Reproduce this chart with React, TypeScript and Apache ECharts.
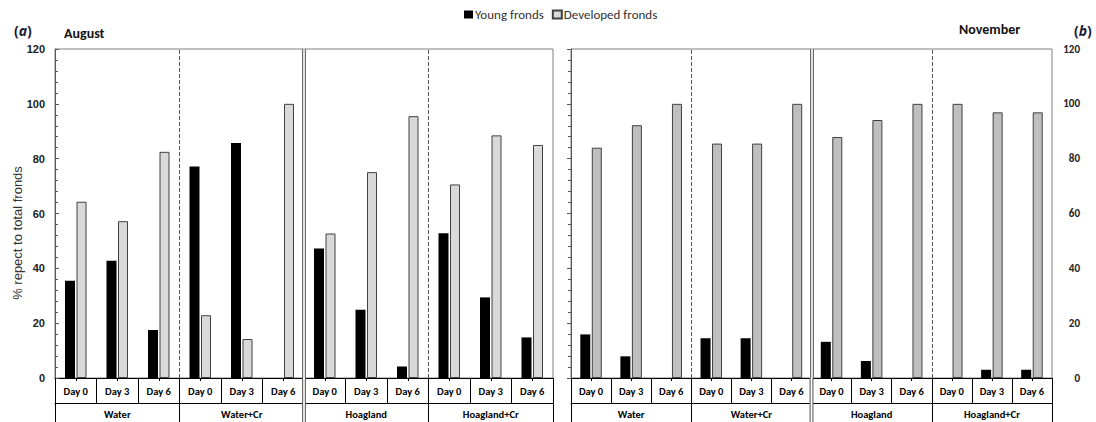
import React, { useEffect, useRef } from "react";
import * as echarts from "echarts";

const days = ["Day 0", "Day 3", "Day 6"];
const groups = ["Water", "Water+Cr", "Hoagland", "Hoagland+Cr"];
const yTicks = [0, 20, 40, 60, 80, 100, 120];

// August (panel a)
const augYoung = [35.5, 42.8, 17.5, 77.1, 85.7, 0, 47.2, 24.9, 4.2, 52.8, 29.4, 14.8];
const augDeveloped = [64.3, 57.2, 82.5, 22.9, 14.2, 100, 52.7, 75.1, 95.5, 70.6, 88.5, 85.0];
// November (panel b)
const novYoung = [15.9, 7.9, 0, 14.5, 14.5, 0, 13.2, 6.2, 0, 0, 3.0, 3.0];
const novDeveloped = [84.0, 92.2, 100, 85.5, 85.5, 100, 87.9, 94.1, 100, 100, 96.9, 96.9];

const categories = groups.flatMap(() => days);

const NARROW = "Carlito, 'Liberation Sans Narrow', 'Open Sans', sans-serif";
const ARIAL = "'Liberation Sans', Arial, sans-serif";

function buildAxesForGrid(g: number) {
  return [
    {
      type: "category",
      gridIndex: g,
      data: categories,
      position: "bottom",
      boundaryGap: true,
      axisLine: { show: true, lineStyle: { color: "#000", width: 1 } },
      axisTick: { show: true, interval: 0, length: 25, lineStyle: { color: "#000" } },
      axisLabel: { interval: 0, fontSize: 10.5, fontWeight: "bold", color: "#000", fontFamily: NARROW, margin: 8 },
    },
    {
      type: "category",
      gridIndex: g,
      data: groups,
      position: "bottom",
      offset: 25,
      boundaryGap: true,
      axisLine: { show: true, lineStyle: { color: "#000", width: 1 } },
      axisTick: { show: true, interval: 0, length: 22, lineStyle: { color: "#000" } },
      axisLabel: { interval: 0, fontSize: 10.5, fontWeight: "bold", color: "#000", fontFamily: NARROW, margin: 6 },
    },
    {
      type: "category",
      gridIndex: g,
      data: categories,
      position: "bottom",
      boundaryGap: true,
      axisLine: { show: false },
      axisTick: { show: true, interval: 0, alignWithLabel: true, length: 3, lineStyle: { color: "#000" } },
      axisLabel: { show: false },
    },
    {
      type: "value",
      gridIndex: g,
      min: 0,
      max: categories.length,
      show: false,
    },
  ];
}

function yAxisFor(g: number, pos: "left" | "right") {
  return {
    type: "value",
    gridIndex: g,
    position: pos,
    min: 0,
    max: 120,
    interval: 20,
    axisLine: { show: true, lineStyle: { color: "#595959", width: 1 } },
    axisTick: { show: true, inside: true, length: 4, lineStyle: { color: "#595959" } },
    minorTick: { show: true, splitNumber: 5, length: 3, lineStyle: { color: "#595959" } },
    splitLine: { show: false },
    axisLabel:
      pos === "left"
        ? { fontSize: 11, fontWeight: "bold", color: "#222", fontFamily: ARIAL, margin: 10, customValues: yTicks }
        : { fontSize: 11, fontWeight: "bold", color: "#222", fontFamily: NARROW, margin: 28, align: "right", customValues: yTicks },
  };
}

function separatorSeries(xIdx: number, yIdx: number) {
  return {
    type: "line",
    xAxisIndex: xIdx,
    yAxisIndex: yIdx,
    data: [],
    silent: true,
    markLine: {
      silent: true,
      symbol: "none",
      label: { show: false },
      data: [
        { xAxis: 3, lineStyle: { type: "dashed", color: "#555", width: 1 } },
        { xAxis: 9, lineStyle: { type: "dashed", color: "#555", width: 1 } },
        { xAxis: 6, lineStyle: { type: "solid", color: "#6b6b6b", width: 4 } },
        { xAxis: 6, lineStyle: { type: "solid", color: "#ffffff", width: 1.6 } },
      ],
    },
  };
}

const titleRich = {
  fontSize: 14, fontWeight: "bold", color: "#1b1b3a", fontFamily: "'Open Sans', sans-serif",
  rich: { a: { fontSize: 14, fontWeight: "bold", fontStyle: "italic", color: "#1b1b3a", fontFamily: "'Open Sans', sans-serif" } },
};

export default function App() {
  const ref = useRef<HTMLDivElement>(null);
  useEffect(() => {
    if (!ref.current) return;
    const chart = echarts.init(ref.current, null, { renderer: "svg" });
    const option: any = {
      animation: false,
      backgroundColor: "#fff",
      title: [
        { text: "({a|a})", left: 9, top: 18, textStyle: titleRich },
        { text: "August", left: 59, top: 21, textStyle: { fontSize: 14, fontWeight: "bold", color: "#111", fontFamily: NARROW } },
        { text: "November", left: 954, top: 17, textStyle: { fontSize: 14, fontWeight: "bold", color: "#111", fontFamily: NARROW } },
        { text: "({a|b})", left: 1069, top: 18, textStyle: titleRich },
      ],
      legend: {
        data: ["Young fronds", "Developed fronds"],
        left: 459,
        top: 3,
        icon: "rect",
        itemWidth: 9,
        itemHeight: 8,
        itemGap: 8,
        textStyle: { fontSize: 13, color: "#333", fontFamily: NARROW, padding: [0, 0, 0, -3] },
      },
      grid: [
        { left: 55, top: 49, width: 498, height: 329, show: true, borderColor: "#7f7f7f", borderWidth: 1, backgroundColor: "transparent" },
        { left: 571, top: 49, width: 481, height: 329, show: true, borderColor: "#7f7f7f", borderWidth: 1, backgroundColor: "transparent" },
      ],
      xAxis: [...buildAxesForGrid(0), ...buildAxesForGrid(1)],
      yAxis: [yAxisFor(0, "left"), yAxisFor(1, "right")],
      series: [
        separatorSeries(3, 0),
        separatorSeries(7, 1),
        {
          name: "Young fronds",
          type: "bar",
          xAxisIndex: 0,
          yAxisIndex: 0,
          data: augYoung,
          barWidth: 10,
          barGap: "15%",
          itemStyle: { color: "#000", borderWidth: 0 },
        },
        {
          name: "Developed fronds",
          type: "bar",
          xAxisIndex: 0,
          yAxisIndex: 0,
          data: augDeveloped,
          barWidth: 10,
          barGap: "15%",
          itemStyle: { color: "#d9d9d9", borderColor: "#404040", borderWidth: 1 },
        },
        {
          name: "Young fronds",
          type: "bar",
          xAxisIndex: 4,
          yAxisIndex: 1,
          data: novYoung,
          barWidth: 10,
          barGap: "15%",
          itemStyle: { color: "#000", borderWidth: 0 },
        },
        {
          name: "Developed fronds",
          type: "bar",
          xAxisIndex: 4,
          yAxisIndex: 1,
          data: novDeveloped,
          barWidth: 10,
          barGap: "15%",
          itemStyle: { color: "#bfbfbf", borderColor: "#404040", borderWidth: 1 },
        },
      ],
    };
    chart.setOption(option);

    // double separators through the category table (positions from the library's scales)
    const graphics: any[] = [];
    const y0 = chart.convertToPixel({ yAxisIndex: 0 } as any, 0) as number;
    const h = chart.getHeight();
    [3, 7].forEach((xi) => {
      const x = chart.convertToPixel({ xAxisIndex: xi } as any, 6) as number;
      graphics.push({
        type: "line", z: 100, silent: true,
        shape: { x1: x, y1: y0, x2: x, y2: h },
        style: { stroke: "#6b6b6b", lineWidth: 4 },
      });
      graphics.push({
        type: "line", z: 101, silent: true,
        shape: { x1: x, y1: y0, x2: x, y2: h },
        style: { stroke: "#fff", lineWidth: 1.6 },
      });
    });
    graphics.push({
      type: "text",
      z: 100,
      x: 17,
      y: 233,
      rotation: Math.PI / 2,
      style: {
        text: "% repect to total fronds",
        fontSize: 13,
        fontFamily: ARIAL,
        fill: "#333",
        align: "center",
        verticalAlign: "middle",
      },
    });
    chart.setOption({ graphic: graphics });

    return () => chart.dispose();
  }, []);

  return (
    <div
      ref={ref}
      style={{ position: "absolute", left: 0, top: 0, width: 1096, height: 422, background: "#fff" }}
    />
  );
}
